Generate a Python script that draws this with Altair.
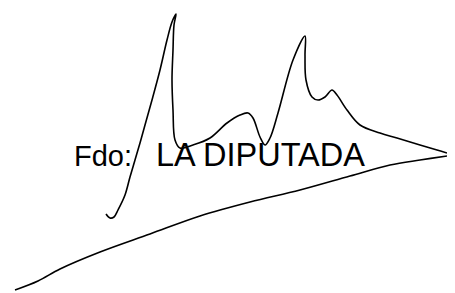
import altair as alt
import pandas as pd

# Signature stroke 1 (pixel-space coordinates)
sig_x = [106, 110, 114, 118, 125, 130, 135, 140, 145, 152, 160, 167, 172, 176,
         174, 173, 172, 173, 175, 180, 193, 210, 227, 240, 248,
         253, 260, 265, 270, 278, 293, 305,
         305, 306, 312, 318, 325, 332, 337, 347, 360, 380, 397, 420,
         437, 447]
sig_y = [214, 218, 217, 210, 195, 177, 160, 143, 125, 100, 70, 40, 22, 14,
         25, 50, 80, 110, 140, 148, 145, 138, 123, 115, 113,
         118, 137, 145, 138, 113, 60, 36,
         55, 80, 97, 100, 97, 90, 95, 110, 125, 133, 138, 145,
         150, 153]

# Underline stroke
line_x = [15, 38, 60, 100, 150, 200, 250, 300, 350, 390, 420, 447]
line_y = [290, 281, 269, 252, 234, 216, 202, 190, 176, 165, 160, 156]

label_left = "Fdo:"
label_right = "LA DIPUTADA"
left_x, right_x = [74], [156]
label_y = [166]

strokes = pd.DataFrame({
    "x": sig_x + line_x,
    "y": sig_y + line_y,
    "stroke": ["sig"] * len(sig_x) + ["under"] * len(line_x),
    "order": list(range(len(sig_x))) + list(range(len(line_x))),
})
lab1 = pd.DataFrame({"x": left_x, "y": label_y, "t": [label_left]})
lab2 = pd.DataFrame({"x": right_x, "y": label_y, "t": [label_right]})

xs = alt.Scale(domain=[8, 447], nice=False, zero=False)
ys = alt.Scale(domain=[8, 293], nice=False, zero=False, reverse=True)

lines = alt.Chart(strokes).mark_line(
    color="black", strokeWidth=1.6, interpolate="catmull-rom", clip=False
).encode(
    x=alt.X("x:Q", scale=xs, axis=None),
    y=alt.Y("y:Q", scale=ys, axis=None),
    detail="stroke:N",
    order="order:Q",
)

def label(df, size):
    return alt.Chart(df).mark_text(
        font="Liberation Sans", fontSize=size, color="black", align="left",
        baseline="alphabetic"
    ).encode(
        x=alt.X("x:Q", scale=xs, axis=None),
        y=alt.Y("y:Q", scale=ys, axis=None),
        text="t:N",
    )

chart = alt.layer(label(lab1, 29), label(lab2, 32.5), lines).properties(
    width=439, height=285, padding=0, autosize="none", background="white"
).configure_view(stroke=None)

chart.save("out.html", embed_options={"renderer": "svg", "actions": False})
